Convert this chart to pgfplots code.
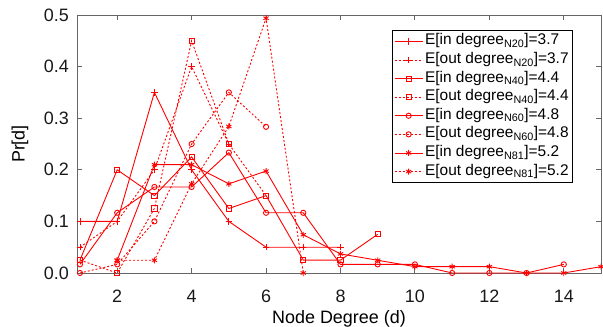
\documentclass[border=0pt]{standalone}
\usepackage{fontspec}
\setmainfont{Liberation Sans}
\usepackage{pgfplots}
\pgfplotsset{compat=1.18}
\pgfplotsset{
  sol/.style={draw=red, color=red, line width=0.9bp, solid, mark options={solid, draw=red, fill=red}},
  dot/.style={draw=red, color=red, line width=0.9bp, dash pattern=on 2bp off 2bp, mark options={solid, draw=red, fill=red}},
}
\begin{document}
\fontsize{18}{21}\selectfont
\begin{tikzpicture}
\begin{axis}[
  scale only axis, width=524bp, height=258bp,
  xmin=0.92, xmax=15, ymin=0, ymax=0.5,
  xtick={2,4,6,8,10,12,14},
  ytick={0,0.1,0.2,0.3,0.4,0.5},
  /pgf/number format/assume math mode=true,
  yticklabel style={/pgf/number format/fixed, /pgf/number format/fixed zerofill, /pgf/number format/precision=1, anchor=east, xshift=-2bp},
  tick align=inside, tick pos=both, major tick length=5bp,
  axis line style={draw=black!60, line width=0.9bp},
  every tick/.style={draw=black!60, line width=0.9bp},
  tick label style={font=\fontsize{18}{21}\selectfont, text=black!90},
  xticklabel style={anchor=base, yshift=-29bp},
  xlabel={Node Degree (d)},
  xlabel style={at={(axis description cs:0.5,0)}, anchor=base, yshift=-50bp, font=\fontsize{18}{21}\selectfont},
  legend style={at={(0.9466,0.942)}, anchor=north east, draw=black, line width=0.8bp,
    font=\fontsize{15.5}{17}\selectfont, inner sep=2bp, row sep=0.6bp,
    nodes={inner ysep=1.5bp, inner xsep=2bp, text height=11bp, text depth=4bp}},
  legend cell align=left,
  legend image code/.code={\draw[mark repeat=2,mark phase=2] plot coordinates {(0bp,0bp) (14bp,0bp) (28bp,0bp)};},
]
% in N20
\addplot[sol, mark=+, mark size=3.2bp] coordinates {(1,0.1) (2,0.1) (3,0.35) (4,0.2) (5,0.1) (6,0.05) (7,0.05) (8,0.05)};
\addlegendentry{E[in degree\textsubscript{N20}]=3.7}
% out N20
\addplot[dot, mark=+, mark size=3.2bp] coordinates {(1,0.05) (2,0.1) (3,0.2) (4,0.4) (5,0.25)};
\addlegendentry{E[out degree\textsubscript{N20}]=3.7}
% in N40
\addplot[sol, mark=square, mark size=2.6bp] coordinates {(1,0.025) (2,0.2) (3,0.15) (4,0.225) (5,0.125) (6,0.15) (7,0.025) (8,0.025) (9,0.075)};
\addlegendentry{E[in degree\textsubscript{N40}]=4.4}
% out N40
\addplot[dot, mark=square, mark size=2.6bp] coordinates {(1,0.025) (2,0) (3,0.125) (4,0.45) (5,0.25) (6,0.15)};
\addlegendentry{E[out degree\textsubscript{N40}]=4.4}
% in N60
\addplot[sol, mark=o, mark size=2.6bp] coordinates {(1,0.0167) (2,0.1167) (3,0.1667) (4,0.1667) (5,0.2333) (6,0.1167) (7,0.1167) (8,0.0167) (9,0.0167) (10,0.0167) (11,0) (12,0) (13,0) (14,0.0167)};
\addlegendentry{E[in degree\textsubscript{N60}]=4.8}
% out N60
\addplot[dot, mark=o, mark size=2.6bp] coordinates {(1,0) (2,0.0167) (3,0.1) (4,0.25) (5,0.35) (6,0.2833)};
\addlegendentry{E[out degree\textsubscript{N60}]=4.8}
% in N81
\addplot[sol, mark=asterisk, mark size=3bp] coordinates {(2,0.0247) (3,0.2099) (4,0.2099) (5,0.1728) (6,0.1975) (7,0.0741) (8,0.0370) (9,0.0247) (10,0.0123) (11,0.0123) (12,0.0123) (13,0) (14,0) (15,0.0123)};
\addlegendentry{E[in degree\textsubscript{N81}]=5.2}
% out N81
\addplot[dot, mark=asterisk, mark size=3bp] coordinates {(2,0.0247) (3,0.0247) (4,0.1728) (5,0.2840) (6,0.4938) (7,0)};
\addlegendentry{E[out degree\textsubscript{N81}]=5.2}
\end{axis}
\node[rotate=90, font=\fontsize{18}{21}\selectfont, inner sep=0pt] at (-57bp,129bp) {Pr[d]};
\pgfresetboundingbox
\path[use as bounding box] (-77bp,-54bp) rectangle (526bp,273bp);
\end{tikzpicture}
\end{document}
